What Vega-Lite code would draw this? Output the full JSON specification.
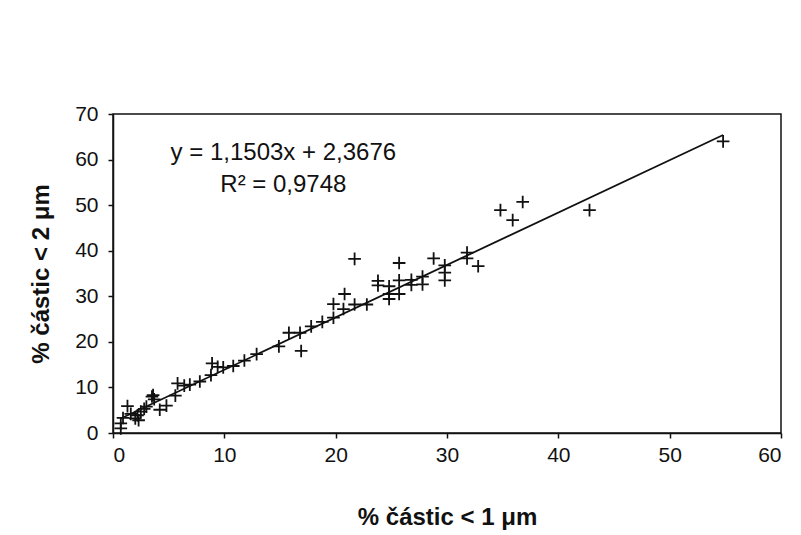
{
  "$schema": "https://vega.github.io/schema/vega-lite/v6.json",
  "autosize": "none",
  "width": 668,
  "height": 319,
  "padding": {"left": 113, "top": 114, "right": 20, "bottom": 102},
  "background": "white",
  "config": {
    "font": "Liberation Sans",
    "view": {"stroke": "#111111", "strokeWidth": 1.5},
    "axis": {
      "grid": false,
      "domainColor": "#111111",
      "domainWidth": 1.5,
      "tickColor": "#111111",
      "tickWidth": 1.5,
      "tickSize": 5,
      "labelColor": "#111111",
      "labelFont": "Liberation Sans",
      "labelFontSize": 21,
      "labelFontWeight": "normal",
      "titleColor": "#111111",
      "titleFont": "Liberation Sans",
      "titleFontSize": 24,
      "titleFontWeight": "bold"
    }
  },
  "layer": [
    {
      "data": {
        "values": [
          {"x": 0.7, "y": 3.1728},
          {"x": 54.8, "y": 65.4040}
        ]
      },
      "mark": {"type": "line", "color": "#111111", "strokeWidth": 1.8},
      "encoding": {
        "x": {"field": "x", "type": "quantitative"},
        "y": {"field": "y", "type": "quantitative"}
      }
    },
    {
      "data": {
        "values": [
          {"x": 0.7, "y": 1.0}, {"x": 0.7, "y": 2.1}, {"x": 0.9, "y": 3.3},
          {"x": 1.3, "y": 5.9}, {"x": 1.6, "y": 4.2}, {"x": 2.0, "y": 3.2},
          {"x": 2.3, "y": 2.8}, {"x": 2.2, "y": 3.9}, {"x": 2.5, "y": 4.7},
          {"x": 2.8, "y": 5.3}, {"x": 3.0, "y": 5.8}, {"x": 3.5, "y": 8.0},
          {"x": 3.7, "y": 7.4}, {"x": 3.6, "y": 8.3}, {"x": 4.2, "y": 5.1},
          {"x": 4.8, "y": 6.0}, {"x": 5.6, "y": 8.2}, {"x": 5.8, "y": 10.9},
          {"x": 6.4, "y": 10.4}, {"x": 6.9, "y": 10.6}, {"x": 7.8, "y": 11.3},
          {"x": 8.8, "y": 12.7}, {"x": 8.9, "y": 15.3}, {"x": 9.4, "y": 14.5},
          {"x": 9.9, "y": 14.4}, {"x": 10.8, "y": 14.7}, {"x": 11.8, "y": 15.9},
          {"x": 12.9, "y": 17.3}, {"x": 14.9, "y": 19.0}, {"x": 15.8, "y": 22.0},
          {"x": 16.8, "y": 22.0}, {"x": 16.9, "y": 18.0}, {"x": 17.8, "y": 23.4},
          {"x": 18.8, "y": 24.4}, {"x": 19.8, "y": 25.3}, {"x": 19.8, "y": 28.3},
          {"x": 20.7, "y": 27.2}, {"x": 20.8, "y": 30.5}, {"x": 21.7, "y": 28.2},
          {"x": 21.7, "y": 38.2}, {"x": 22.8, "y": 28.2}, {"x": 23.8, "y": 33.4},
          {"x": 23.8, "y": 32.4}, {"x": 24.8, "y": 32.2}, {"x": 24.8, "y": 30.5},
          {"x": 24.8, "y": 29.4}, {"x": 25.7, "y": 37.3}, {"x": 25.7, "y": 33.5},
          {"x": 25.7, "y": 30.5}, {"x": 26.8, "y": 33.6}, {"x": 26.8, "y": 32.5},
          {"x": 27.8, "y": 34.3}, {"x": 27.8, "y": 32.6}, {"x": 28.8, "y": 38.3},
          {"x": 29.8, "y": 36.8}, {"x": 29.8, "y": 35.2}, {"x": 29.8, "y": 33.5},
          {"x": 31.8, "y": 39.6}, {"x": 31.8, "y": 38.3}, {"x": 32.8, "y": 36.6},
          {"x": 34.8, "y": 48.9}, {"x": 35.9, "y": 46.7}, {"x": 36.8, "y": 50.7},
          {"x": 42.8, "y": 48.9}, {"x": 54.8, "y": 64.0}
        ]
      },
      "mark": {
        "type": "point",
        "shape": "M-1,0H1M0,-1V1",
        "size": 160,
        "filled": false,
        "stroke": "#111111",
        "strokeWidth": 1.8,
        "opacity": 1
      },
      "encoding": {
        "x": {
          "field": "x",
          "type": "quantitative",
          "scale": {"domain": [0, 60], "nice": false, "zero": false},
          "axis": {"values": [0, 10, 20, 30, 40, 50, 60], "labelPadding": 6, "titlePadding": 40},
          "title": "% částic < 1 μm"
        },
        "y": {
          "field": "y",
          "type": "quantitative",
          "scale": {"domain": [0, 70], "nice": false, "zero": false},
          "axis": {"values": [0, 10, 20, 30, 40, 50, 60, 70], "labelPadding": 10, "titlePadding": 21},
          "title": "% částic < 2 μm"
        }
      }
    },
    {
      "data": {"values": [{"label": "y = 1,1503x + 2,3676"}]},
      "mark": {"type": "text", "font": "Liberation Sans", "fontSize": 24, "color": "#111111", "align": "center", "baseline": "middle"},
      "encoding": {
        "text": {"field": "label"},
        "x": {"datum": 15.3, "type": "quantitative"},
        "y": {"datum": 61.4, "type": "quantitative"}
      }
    },
    {
      "data": {"values": [{"label": "R² = 0,9748"}]},
      "mark": {"type": "text", "font": "Liberation Sans", "fontSize": 24, "color": "#111111", "align": "center", "baseline": "middle"},
      "encoding": {
        "text": {"field": "label"},
        "x": {"datum": 15.3, "type": "quantitative"},
        "y": {"datum": 54.5, "type": "quantitative"}
      }
    }
  ]
}
